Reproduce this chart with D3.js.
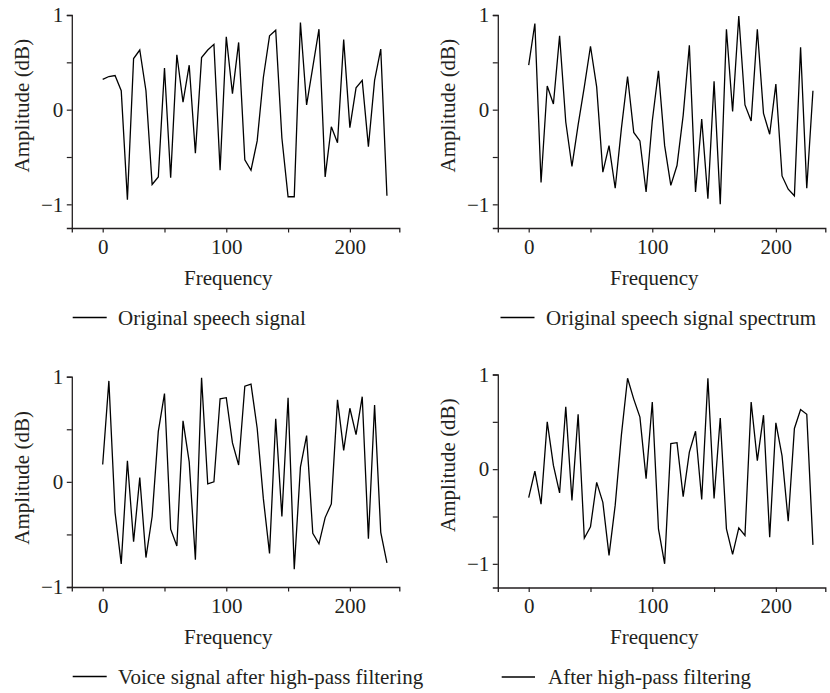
<!DOCTYPE html>
<html>
<head>
<meta charset="utf-8">
<script src="https://cdn.jsdelivr.net/npm/d3@7"></script>
<style>
  body { margin: 0; background: #fff; }
  svg { display: block; }
  text { font-family: "Liberation Serif", "Times New Roman", serif; fill: #231f20; }
</style>
</head>
<body>
<svg id="chart" width="830" height="693"></svg>
<script>
// Frequency bins shared by all four traces
const frequency = [0, 5, 10, 15, 20, 25, 30, 35, 40, 45, 50, 55, 60, 65, 70, 75, 80, 85, 90, 95,
  100, 105, 110, 115, 120, 125, 130, 135, 140, 145, 150, 155, 160, 165, 170, 175, 180, 185, 190, 195,
  200, 205, 210, 215, 220, 225, 230];

// Amplitude (dB) of each trace
const originalSignal = [0.32, 0.35, 0.36, 0.20, -0.95, 0.54, 0.63, 0.20, -0.79, -0.71, 0.44, -0.72,
  0.58, 0.08, 0.47, -0.46, 0.55, 0.63, 0.69, -0.64, 0.77, 0.17, 0.71, -0.53, -0.64, -0.33, 0.34, 0.78,
  0.84, -0.30, -0.92, -0.92, 0.92, 0.05, 0.45, 0.85, -0.71, -0.18, -0.35, 0.74, -0.19, 0.23, 0.31,
  -0.39, 0.31, 0.64, -0.91];
const originalSpectrum = [0.47, 0.91, -0.77, 0.25, 0.06, 0.78, -0.13, -0.60, -0.16, 0.24, 0.67, 0.24,
  -0.66, -0.38, -0.83, -0.20, 0.35, -0.24, -0.33, -0.87, -0.12, 0.41, -0.38, -0.80, -0.59, -0.06, 0.68,
  -0.87, -0.10, -0.94, 0.30, -1.00, 0.85, -0.02, 0.99, 0.05, -0.12, 0.85, -0.04, -0.26, 0.27, -0.70,
  -0.84, -0.91, 0.66, -0.83, 0.20];
const highPassSignal = [0.165, 0.96, -0.29, -0.78, 0.20, -0.57, 0.04, -0.72, -0.33, 0.48, 0.84, -0.45,
  -0.61, 0.58, 0.19, -0.74, 0.99, -0.02, 0.00, 0.79, 0.80, 0.37, 0.16, 0.91, 0.93, 0.51, -0.16, -0.68,
  0.60, -0.33, 0.80, -0.83, 0.14, 0.44, -0.49, -0.59, -0.34, -0.21, 0.78, 0.30, 0.70, 0.45, 0.81,
  -0.54, 0.73, -0.48, -0.77];
const highPassSpectrum = [-0.30, -0.02, -0.37, 0.50, 0.04, -0.25, 0.66, -0.33, 0.58, -0.73, -0.61,
  -0.14, -0.35, -0.91, -0.38, 0.36, 0.96, 0.74, 0.55, -0.10, 0.71, -0.63, -1.00, 0.27, 0.28, -0.29,
  0.18, 0.40, -0.32, 0.96, -0.31, 0.54, -0.63, -0.90, -0.62, -0.70, 0.71, 0.09, 0.57, -0.72, 0.49,
  0.14, -0.55, 0.43, 0.63, 0.58, -0.80];

// Tick values and their labels (empty label = minor tick)
const xTickValues = [0, 50, 100, 150, 200];
const xTickLabels = ["0", "", "100", "", "200"];
const yTickValues = [-1, -0.5, 0, 0.5, 1];
const yTickLabels = ["\u22121", "", "0", "", "1"];

const xTitle = "Frequency";
const yTitle = "Amplitude (dB)";
const legendLabels = [
  "Original speech signal",
  "Original speech signal spectrum",
  "Voice signal after high-pass filtering",
  "After high-pass filtering"
];
const seriesList = [originalSignal, originalSpectrum, highPassSignal, highPassSpectrum];

// Layout of the four panels
const panels = [
  { xr: [71.8, 399.3],  yd: [-1.25, 1], yr: [228, 15],      legLine: [72.7, 106.7],  legText: 118 },
  { xr: [497.8, 825.3], yd: [-1.25, 1], yr: [228, 15],      legLine: [500.5, 534.5], legText: 546 },
  { xr: [71.8, 399.3],  yd: [-1, 1],    yr: [587, 376.7],   legLine: [72.7, 106.7],  legText: 118 },
  { xr: [497.8, 825.3], yd: [-1.25, 1], yr: [587.5, 374.5], legLine: [501.7, 535],   legText: 548 }
];

const FONT = 21;
const svg = d3.select("#chart");

panels.forEach((p, k) => {
  const x = d3.scaleLinear().domain([-25, 240]).range(p.xr);
  const y = d3.scaleLinear().domain(p.yd).range(p.yr);
  const g = svg.append("g");
  const axisBottomY = p.yr[0];

  // x axis
  const xa = g.append("g")
    .attr("transform", `translate(0,${axisBottomY})`)
    .call(d3.axisBottom(x).tickValues(xTickValues).tickSizeOuter(0).tickSize(4.5).tickPadding(6.3)
      .tickFormat((d, i) => xTickLabels[i]));
  // y axis
  const ya = g.append("g")
    .attr("transform", `translate(${p.xr[0]},0)`)
    .call(d3.axisLeft(y).tickValues(yTickValues).tickSizeOuter(0).tickSize(5).tickPadding(3.5)
      .tickFormat((d, i) => yTickLabels[i]));

  [xa, ya].forEach(a => {
    a.attr("font-family", null);
    a.select(".domain").attr("stroke", "#231f20").attr("stroke-width", 1.3);
    a.selectAll(".tick line").attr("stroke", "#231f20").attr("stroke-width", 1.2);
    a.selectAll(".tick text").attr("font-size", FONT).attr("fill", "#231f20");
  });

  // trace
  const line = d3.line().x((d, i) => x(frequency[i])).y(d => y(d));
  g.append("path")
    .datum(seriesList[k])
    .attr("fill", "none")
    .attr("stroke", "#000")
    .attr("stroke-width", 1.3)
    .attr("stroke-linejoin", "miter")
    .attr("d", line);

  // axis titles
  g.append("text")
    .attr("x", x(100) + 2)
    .attr("y", axisBottomY + 56.5)
    .attr("text-anchor", "middle")
    .attr("font-size", FONT)
    .text(xTitle);

  g.append("text")
    .attr("transform", `translate(${p.xr[0] - 50},${y(0) - 4}) rotate(-90)`)
    .attr("text-anchor", "middle")
    .attr("dy", "0.35em")
    .attr("font-size", FONT)
    .text(yTitle);

  // legend
  const legY = axisBottomY + 89.5;
  g.append("line")
    .attr("x1", p.legLine[0]).attr("x2", p.legLine[1])
    .attr("y1", legY).attr("y2", legY)
    .attr("stroke", "#000").attr("stroke-width", 1.3);
  g.append("text")
    .attr("x", p.legText)
    .attr("y", legY + 7)
    .attr("font-size", FONT)
    .text(legendLabels[k]);
});
</script>
</body>
</html>
